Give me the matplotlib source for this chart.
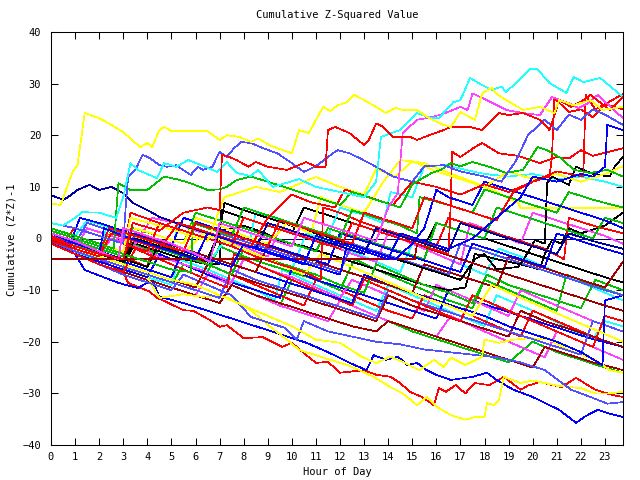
import matplotlib
matplotlib.use("Agg")
import matplotlib.pyplot as plt

# chart text
title = "Cumulative Z-Squared Value"
x_label = "Hour of Day"
y_label = "Cumulative (Z*Z)-1"
x_ticks = list(range(0, 24))
y_ticks = list(range(-40, 41, 10))

# each series: (hour, cumulative value) vertices
yellow_top = [(0, 6.8), (0.4, 6.5), (0.9, 13), (1.1, 14.2), (1.4, 24.3), (2, 23.3), (2.4, 22.3), (3, 20.6),
              (3.7, 17.7), (4, 18.5), (4.2, 17.7), (4.5, 21), (4.7, 21.6), (5, 20.8), (6.5, 20.8), (7, 19.1),
              (7.3, 20), (7.8, 19.7), (8.3, 18.7), (8.6, 19.4), (9.1, 18), (10, 16.5), (10.3, 21), (10.7, 20.4),
              (11.3, 25.5), (11.6, 24.7), (11.9, 25.8), (12.3, 26.4), (12.6, 27.8), (13, 26.8), (13.5, 25.5),
              (13.9, 24.3), (14.3, 25.3), (14.6, 24.9), (15.2, 24.9), (15.7, 23.3), (16.3, 22), (16.6, 21.6),
              (17, 24.5), (17.6, 23), (17.9, 28.1), (18.3, 29.2), (18.5, 28), (18.9, 26.8), (19.6, 24.9),
              (20.3, 25.5), (20.9, 24.3), (21.1, 26.8), (21.7, 25.8), (22.4, 26.8), (22.9, 24.9), (23.75, 25.5)]
yellow_low = [(0, 0), (1, -2), (2, -4), (3, -5.5), (4, -7.5), (4.5, -11.5), (5.5, -10.8), (6.3, -11.3), (7, -11),
              (7.6, -12), (8.3, -13.9), (9.1, -17.1), (9.8, -19.6), (10.3, -21.6), (11, -22.6), (11.6, -23.5),
              (12.3, -24.5), (12.8, -25.5), (13.4, -26.8), (14.1, -28.8), (14.6, -30), (15.2, -32.3), (15.6, -30.7),
              (16, -32.6), (16.6, -34.2), (17.2, -35.1), (17.6, -34.6), (18, -34.6), (18.1, -31.9), (18.4, -32.3),
              (18.6, -31.3), (18.8, -26.8), (19.5, -28), (20, -27.5), (21, -28.5), (22, -29), (22.6, -30),
              (23.2, -30), (23.75, -29.7)]
yellow_b = [(0, 1), (1, -1), (2, -3.5), (3, -5), (4, -6.5), (5, -8), (6, -9), (7, -11), (8, -13), (9, -15),
            (10, -17), (11, -19.6), (12, -20.2), (12.9, -22.9), (13.5, -24.1), (14.1, -22.9), (14.6, -23.9),
            (15.3, -25.5), (15.9, -23.5), (16.3, -24.9), (16.6, -23.1), (17.2, -24.5), (17.9, -22.9), (18, -19.6),
            (18.6, -20.2), (19.2, -19.6), (19.9, -19.3), (20.7, -19.6), (21.5, -21.6), (22.6, -23.5),
            (23.2, -25.5), (23.75, -26)]
yellow_c = [(0, 1.5), (1, 0), (2, -1.5), (3, -3), (3.5, 2), (4.5, 0.5), (5.5, -1), (6, 4), (7, 2.5), (8, 0.5),
            (9, -1), (9.8, 3), (10.8, 1), (11.2, 8), (12, 6.5), (13, 5), (13.8, 11), (14.5, 15.2), (15.5, 14.6),
            (16.5, 12.7), (17.5, 11), (18.5, 9), (19.4, 6.9), (19.5, 5.9), (23.75, 5.9)]
yellow_d = [(0, 0.5), (1, -1.5), (2, -3), (2.6, 2), (3.5, 0.5), (4.5, -1.5), (5.5, -3), (6.3, 1), (7.5, -1),
            (8.5, -3), (9.5, -5), (10.5, -7), (11.2, -3), (12.5, -5.5), (13.5, -7.5), (14.5, -9.5), (15.5, -11.5),
            (16.5, -13), (17.5, -15), (18.3, -9), (19.5, -11.5), (20.5, -13.5), (21.5, -15.5), (22.5, -17.5),
            (23.75, -20)]
yellow_e = [(0, 2), (1, 0.5), (2, -1), (3, -2.5), (3.3, 4), (4.5, 2.5), (5.5, 1), (6.5, -0.5), (7.2, 8), (8.5, 10),
            (9.5, 9), (10.5, 11), (11, 11.9), (12, 10), (13, 8.5), (13.5, 13.5), (14.3, 12), (15, 15), (16, 13),
            (17, 11.5), (18, 10), (19, 13), (20, 11.5), (21, 12.5), (22, 11), (23, 12.5), (23.75, 14)]

cyan_top = [(0, 3), (0.5, 2.5), (1, 4), (1.3, 5.1), (2, 5), (2.7, 4), (3, 8), (3.3, 14.6), (3.6, 13.3), (4.4, 11.7),
            (4.7, 14.6), (5.2, 13.9), (5.7, 15.2), (6.4, 13.9), (6.9, 12.9), (7.3, 14.8), (7.7, 12.7), (8.3, 12.1),
            (8.6, 13.3), (9.2, 10), (10.3, 11.5), (11, 10), (12, 9), (13, 8), (13.5, 11), (13.7, 19.7), (14.5, 21),
            (15.2, 24.3), (15.8, 23.3), (16.1, 23.3), (16.7, 26.4), (17, 26.8), (17.4, 31.1), (17.9, 29.7),
            (18.3, 28.8), (18.7, 29.4), (18.9, 28.4), (19.3, 30.1), (19.9, 32.8), (20.2, 32.8), (20.7, 30.1),
            (21.4, 28.2), (21.7, 31.3), (22.1, 30.3), (22.8, 31.1), (23.75, 27.4)]
cyan_b = [(0, 1), (1, -1), (2, -2.5), (2.3, 2), (3, 1), (4, -1), (5, -2.5), (5.3, 3), (6.3, 1.5), (7.3, 0),
          (8.2, -1.5), (8.5, 5), (9.5, 3.5), (10.5, 2), (11.5, 0.5), (12, 6), (13, 4.5), (13.8, 3), (14.1, 9),
          (15, 8), (15.5, 14), (16.4, 14.2), (17.2, 13.3), (18, 12.5), (19, 12), (20, 12.5), (21, 11.5), (22, 12),
          (23, 11), (23.75, 10)]
cyan_c = [(0, -0.5), (1, -2.5), (2, -4.5), (3, -6), (4, -7.5), (5, -9), (5.3, -4), (6.5, -6), (7.5, -8), (8.5, -10),
          (9.3, -12), (9.6, -6), (10.5, -8), (11.5, -10), (12.5, -12), (13.5, -14), (14, -9), (15, -11), (16, -13),
          (17, -15), (18, -17), (18.5, -11), (19.5, -13), (20.5, -15), (21.5, -17.5), (22.5, -19.5), (23, -16),
          (23.75, -17)]
cyan_d = [(0, 2), (1, 0.5), (1.5, 3.5), (2.5, 2), (3.5, 0), (4.5, -1.5), (5.5, -3.5), (6.5, -5), (7.2, -0.5),
          (8, -2), (9, -4), (10, -6), (10.6, 1), (11.5, -0.5), (12.5, -2.5), (13.5, -4.5), (14.5, -6.5), (15, -1),
          (16, -3), (17, -5), (18, -7), (18.6, -2), (19.5, -3.5), (20.5, -5.5), (21.5, -7.5), (22.5, -9.5),
          (23.75, -12)]

magenta_top = [(0, 1), (1, -0.5), (2, -2.5), (2.8, -4), (3, 2), (4, 0.5), (5, -1), (6, -3), (6.6, -4.5), (7, 3),
               (8, 1.5), (9, 0), (10, -1.5), (10.5, 4), (11.5, 2.5), (12.5, 1), (13.5, -0.5), (14, 6), (14.4, 8.8),
               (14.6, 20.4), (15.2, 23), (15.6, 23.3), (16.2, 24), (17, 25.5), (17.3, 24.9), (17.5, 28.1),
               (18.1, 26.8), (18.9, 24.9), (19.6, 24.3), (20.3, 23.9), (20.8, 27.4), (21.5, 26.2), (21.9, 25.3),
               (22.3, 26.2), (22.7, 27.8), (23.75, 23.3)]
magenta_b = [(0, 0), (1, -2), (2, -3.5), (2.5, 0), (3.5, -1.5), (4.5, -3.5), (5.5, -5), (6.5, -6.5), (7.5, -8.5),
             (8, -4), (9, -6), (10, -7.5), (11, -9.5), (12, -11.5), (12.5, -8), (13.5, -10), (14.5, -12),
             (15.5, -14), (16, -9), (17, -11), (18, -13), (19, -15), (19.5, -10), (20.5, -12), (21.5, -14),
             (22.5, -16), (23.75, -18)]
magenta_c = [(0, -0.5), (1, -2), (1.5, 2), (2.5, 0.5), (3.5, -1), (4.2, 4), (5.2, 3), (6, 1.5), (7, 0), (8, -1.5),
             (9, -3.5), (9.5, 2), (10.5, 0.5), (11.5, -1), (12.5, -3), (13.5, -4.5), (14, 1), (15, -1), (16, -3),
             (17, -5), (17.4, 3), (18.5, 1), (19.5, -1), (20, 5), (21, 3.5), (22, 2), (23, 0.5), (23.75, -1)]
magenta_d = [(0, -1), (1, -3), (2, -5), (3, -6.5), (4, -8), (5, -9.5), (6, -11), (6.5, -7), (7.5, -9), (8.5, -11),
             (9.5, -13), (10.5, -14.5), (11.5, -16), (12, -12), (13, -14), (14, -16), (15, -17.5), (16, -19),
             (16.6, -15), (17.5, -17), (18.5, -19), (19.5, -21), (20.5, -23), (21, -18), (22, -20), (23, -22),
             (23.75, -23.5)]

red_top = [(0, 0), (1, -1.5), (2, -3), (3, -4), (3.4, 3), (4.5, 1.5), (5.5, 5), (6.5, 6), (7, 5.5), (7.1, 16.2),
           (7.4, 15.8), (7.7, 15.2), (8.2, 13.9), (8.5, 14.8), (9, 13.9), (9.8, 13.3), (10.6, 14.8), (11, 13.9),
           (11.4, 13.9), (11.5, 21), (11.8, 21.6), (12.4, 20.4), (13, 18.1), (13.2, 19.1), (13.5, 22.3),
           (13.8, 21.6), (14.2, 19.7), (14.9, 19.7), (15.2, 19.1), (15.7, 20), (16.3, 21), (16.6, 21.6),
           (17.4, 21.6), (17.9, 21), (18.6, 24.3), (19, 23.9), (19.6, 24.3), (20.3, 23), (20.7, 21), (21.1, 26.8),
           (21.6, 25.5), (22.1, 26.8), (22.4, 27.8), (23.2, 24.9), (23.75, 27.4)]
red_low = [(0, -0.3), (1, -2), (2, -4), (3, -6.5), (3.2, -8.6), (4.1, -10.3), (4.4, -11.5), (4.8, -12.3),
           (5.5, -13.9), (5.9, -14), (6.6, -15.8), (7, -17.1), (7.3, -16.8), (8, -19.3), (8.8, -19.1), (9.6, -21),
           (10, -20.2), (10.5, -22.2), (11, -24.1), (11.5, -23.9), (12, -26), (12.4, -25.8), (13, -25.5),
           (13.5, -26.4), (14.1, -26.8), (14.5, -28), (14.9, -29.7), (15.4, -30.7), (15.9, -32.3), (16.1, -29),
           (16.4, -29.7), (16.8, -28.4), (17.2, -30), (17.6, -28), (18.2, -28.4), (18.8, -26.8), (19.5, -29.3),
           (19.8, -28.5), (20.3, -27.8), (21.2, -28.8), (21.8, -27), (22.6, -29.3), (23.3, -30.3), (23.75, -30.7)]
red_c = [(0, 1), (1, -0.5), (2, -2), (3, -3.5), (4, -5.5), (4.3, -1), (5.5, -3), (6.5, -5), (7.5, -7), (8.5, -9),
         (9.5, -11), (10.5, -13), (11, -8), (12, -10), (13, -12), (14, -14), (15, -15.5), (15.5, -11), (16.5, -13),
         (17.5, -15), (18.5, -17), (19.5, -19), (20, -14), (21, -16), (22, -18), (23, -20), (23.75, -21)]
red_d = [(0, 0.5), (0.5, -0.5), (1, 2), (2, 0.5), (3, -1), (4, -2.5), (4.5, 3), (5.5, 1.5), (6.5, 0), (7.5, -1.5),
         (8, 4), (9, 2.5), (10, 1), (11, -0.5), (12, -2), (12.5, 3), (13.5, 1.5), (14.5, 0), (15.5, -1.5),
         (16.5, -3), (16.6, 6.9), (16.65, 16.8), (17, 15.8), (17.6, 17.7), (17.9, 18.5), (18.6, 16.5), (19.4, 16),
         (20.3, 14.6), (21, 15.8), (21.5, 15.5), (22, 17.1), (22.5, 16), (23.75, 17.5)]
red_e = [(0, -0.5), (1, -2), (2, -3.5), (2.5, 1), (3.5, -0.5), (4.5, -2), (5.3, 3), (6.3, 1.5), (7.3, 0),
         (8.3, -1.5), (9, 4), (10, 8.5), (10.8, 7), (11.8, 6), (12.2, 9.5), (13.2, 8), (14.2, 6.5), (15, 11),
         (16, 10), (17, 8.5), (18, 10.5), (19, 9), (20, 11), (20.7, 12), (20.8, 15.8), (20.9, 27.2), (21.5, 24.5),
         (22, 25), (22.5, 23.5), (23, 26), (23.75, 25)]
red_f = [(0, 0), (1, -1.5), (2, -3), (2.4, 2), (3.5, 0.5), (4.5, -1), (5.5, -2.5), (6, 3), (7, 1.5), (8, 0),
         (9, -1.5), (9.5, 3.5), (10.5, 2), (11.5, 0.5), (12.5, -1), (13, 5), (14, 3.5), (15, 2), (15.5, 8),
         (16.5, 6.5), (17.5, 5), (18.5, 3.5), (19.2, 9), (20, 11), (21, 13), (22.1, 12), (22.2, 27.8), (22.6, 25),
         (23, 26), (23.75, 28)]
red_g = [(0, -1), (1, -3), (2, -5), (3, -6.5), (3.5, -2), (4.5, -4), (5.5, -6), (6.5, -8), (7.3, -9.5), (7.6, -3),
         (8.5, -5), (9.5, -7), (10.5, -9), (11.5, -11), (12.5, -13), (13, -8), (14, -10), (15, -12), (16, -14),
         (17, -16), (17.5, -11), (18.5, -13), (19.5, -15), (20.5, -17), (21.5, -19), (22.5, -21), (23, -15),
         (23.75, -16)]
red_h = [(0, 1.5), (1, 0), (2, -1.5), (3, -3), (3.3, 5), (4.5, 3), (5.5, 1.5), (6.5, 0), (7.5, -1.5), (8.5, -3.5),
         (9.5, -5), (10.5, -6.5), (11.2, -8), (11.3, 6), (12, 5), (13, 3), (14, 1.5), (15, 0), (16, -1.5),
         (16.5, 4), (17.5, 2.5), (18.5, 1), (19.5, -0.5), (20.5, -2), (21.3, -4), (21.5, 4), (22.5, 2.5),
         (23.75, 1)]

green_top = [(0, 2), (1, 0.5), (2, -1), (2.6, -2), (2.7, 4.5), (2.8, 10.7), (3.3, 9.4), (4, 9.4), (4.7, 12),
             (5.2, 11.5), (5.8, 10.7), (6.5, 9.4), (7, 9.5), (7.3, 10), (7.7, 11.3), (8.3, 12), (9, 11), (10, 9.5),
             (11, 8), (12, 6.5), (12.5, 9), (13.5, 7.5), (14.5, 6), (15, 10.5), (15.8, 12.7), (16.2, 13.3),
             (16.6, 14.6), (17, 14), (17.5, 14.8), (18.2, 13.9), (18.9, 12.7), (19.6, 13.3), (20.2, 17.7),
             (20.6, 17.1), (21.2, 15.5), (21.7, 13.3), (22.4, 12.7), (23.1, 13.3), (23.75, 12)]
green_b = [(0, 1), (1, -0.5), (2, -2), (3, -3.5), (3.4, 2), (4.5, 0.5), (5.5, -1), (6, 5), (7, 3.5), (8, 2),
           (9, 0.5), (10, -1), (11, -2.5), (11.5, 2), (12.5, 0.5), (13.5, -1), (14.5, -2.5), (15.5, -4), (16, 3),
           (17, 1.5), (18, 0), (18.5, 6), (19.5, 4.5), (20.5, 3), (21.5, 1.5), (22.5, 0), (23, 4), (23.75, 3)]
green_c = [(0, -0.5), (1, -2.5), (2, -4.5), (3, -6), (4, -7.5), (5, -9), (5.5, -5), (6.5, -7), (7.5, -9),
           (8.5, -11), (9.5, -13), (10, -8), (11, -10), (12, -12), (13, -14), (14, -16), (15, -18), (16, -19.5),
           (17, -21), (18, -22.5), (19, -24), (20, -20), (21, -22), (22, -23.5), (23, -25), (23.75, -26)]
green_d = [(0, 0.5), (1, -1), (2, -3), (2.5, 1.5), (3.5, 0), (4.5, -2), (5.5, -3.5), (6.5, -5), (7.5, -7), (8, -2),
           (9, -4), (10, -5.5), (11, -7), (12, -9), (13, -10.5), (13.5, -5), (14.5, -7), (15.5, -9), (16.5, -10.5),
           (17.5, -12.5), (18.1, -7), (19, -9), (20, -10.5), (21, -12), (22, -13.5), (22.6, -8), (23.75, -10)]
green_e = [(0, 1.5), (1, 0), (2, -1.5), (3, -3), (4, -4.5), (5, -6), (5.8, -6.5), (5.9, 3), (6.5, 2), (7.5, 0.5),
           (8, 6), (9, 4.5), (10, 3), (11, 1.5), (12, 0), (12.5, 5.5), (13.5, 4), (14.5, 2.5), (15.2, 1),
           (15.3, 8), (16.5, 6.5), (17.5, 5), (18, 9.5), (19, 8), (20, 6.5), (21, 5), (21.5, 9), (22.5, 7.5),
           (23.75, 6)]
green_f = [(0, -1), (1, -3), (2, -4.5), (3, -6), (3.3, -1), (4.5, -3), (5.5, -5), (6.5, -6.5), (7, -1.5),
           (8, -3.5), (9, -5), (10, -6.5), (11, -8), (12, -10), (12.6, -4), (13.5, -6), (14.5, -8), (15.5, -10),
           (16.5, -12), (17.5, -13.5), (18, -8), (19, -10), (20, -12), (21, -14), (21.4, -7), (22.5, -9),
           (23.75, -11)]

blue_low = [(0, -0.5), (1, -3), (1.4, -6.1), (2.8, -8.6), (3.6, -9.6), (4.2, -8), (4.5, -11.3), (5.5, -12.5),
            (6.5, -14), (7.5, -15.5), (8.5, -17), (9.5, -18.5), (10.6, -20.2), (11.3, -21.6), (11.9, -22.9),
            (12.4, -24.1), (13.1, -25.5), (13.4, -22.6), (13.9, -23.5), (14.4, -22.9), (14.8, -24.5),
            (15.2, -24.1), (15.6, -25.5), (16, -26.4), (16.6, -27.4), (17.5, -26.8), (18.1, -26), (18.5, -27.4),
            (19.2, -29.3), (20, -30.7), (21.1, -33.2), (21.8, -35.7), (22.2, -34.4), (22.7, -33.2),
            (23.1, -33.8), (23.75, -34.6)]
blue_b = [(0, 0), (1, -1.5), (2, -3), (2.2, 2), (3, 0.5), (4, -1), (5, -2.5), (6, -4), (6.5, 1), (7.5, -0.5),
          (8.5, -2), (9.5, -3.5), (10.5, -5), (11, 0.5), (12, -1), (13, -2.5), (14, -4), (14.5, 1), (15.5, -0.5),
          (16.5, -2), (17.5, 0), (18.5, 4), (19.5, 8), (20, 12), (21, 11), (22, 12.5), (22.5, 12), (23, 13.9),
          (23.1, 22), (23.75, 21)]
blue_c = [(0, 0.5), (1, -1.5), (2, -3), (3, -4.5), (4, -6), (5, -7.5), (5.5, -2), (6.5, -3.5), (7.5, -5),
          (8.5, -6.5), (9.5, -8), (10.5, -9.5), (11.5, -11), (12.5, -12.5), (13, -7), (14, -9), (15, -10.5),
          (16, -12), (17, -13.5), (18, -15), (19, -17), (20, -18.5), (21, -20), (22, -22), (22.9, -24.5),
          (23, -12), (23.75, -11)]
blue_d = [(0, 1), (1, -1), (2, -2.5), (3, -4), (3.3, 1), (4.5, -1), (5.5, -2.5), (6.5, -4), (7.5, -5.5), (8, -1),
          (9, -2.5), (10, -4), (11, -5.5), (12, -7), (12.3, -1), (13.3, -2.5), (14.3, -4), (15, -1), (15.5, 2),
          (16, 9.4), (16.5, 8), (17.5, 6.5), (18, 11), (19, 9.5), (20, 8), (21, 6.5), (22, 5), (23, 3.5),
          (23.75, 2)]
blue_e = [(0, -1), (1, -3), (2, -4.5), (3, -6), (4, -7.5), (4.5, -3), (5.5, -5), (6.5, -7), (7.5, -8.5),
          (8.5, -10), (9.5, -11.5), (10, -6), (11, -8), (12, -9.5), (13, -11), (14, -12.5), (15, -14),
          (16, -15.5), (16.5, -10), (17.5, -12), (18.5, -13.5), (19.5, -15), (20.5, -16.5), (21.5, -18),
          (22.5, -19.5), (23.75, -21)]
blue_f = [(0, 0), (0.8, -1), (1.2, 4), (2, 3), (3, 1.5), (4, 0), (5, -1.5), (5.5, 4), (6.5, 2.5), (7.5, 1),
          (8.5, -0.5), (9.5, -2), (10.5, -3.5), (11.5, -5), (12, 1), (13, -0.5), (14, -2), (15, -3.5), (16, -5),
          (17, -6.5), (17.5, -1), (18.5, -2.5), (19.5, -4), (20.5, -5.5), (21, 1), (22, -0.5), (23, -2),
          (23.75, -3)]

slate_top = [(0, 3), (0.5, 2.5), (1, 2), (2, 0.5), (3, -1), (3.1, 6), (3.2, 11.9), (3.5, 13.3), (3.8, 16.2),
             (4.1, 15.6), (4.5, 14.2), (4.8, 13.9), (5.2, 14.2), (5.8, 12.3), (6.1, 13.9), (6.3, 13.3), (6.7, 13.9),
             (7, 16.8), (7.3, 15.8), (7.6, 17.5), (7.9, 18.7), (8.3, 18.5), (8.8, 17.5), (9.4, 16.5), (10, 14.6),
             (10.5, 12.9), (11, 14), (11.7, 16.5), (11.9, 17.1), (12.4, 16.5), (12.8, 15.6), (13.5, 13.9),
             (14.2, 12), (15, 11), (15.5, 14), (16.3, 14.2), (17, 13), (18, 12), (18.7, 11), (19.3, 15),
             (19.8, 20), (20.5, 23), (21, 21), (21.5, 24), (22, 23), (22.5, 25), (23, 24), (23.75, 22)]
slate_low = [(0, -1), (1, -3), (2, -5), (3, -7), (4, -8.5), (5, -10), (5.5, -7), (6.5, -9), (7.5, -11),
             (8.3, -15.2), (9.7, -17.3), (10.2, -19.6), (10.5, -16), (11.5, -18), (12.5, -19), (13.5, -20),
             (14.5, -20.5), (15.5, -21.5), (16.5, -22), (17.5, -22.5), (18.5, -23), (19.5, -24), (20.5, -25.5),
             (21.6, -29.3), (22.4, -30.7), (23.1, -32), (23.75, -31.7)]
slate_c = [(0, 0.5), (1, -1), (1.5, 3), (2.5, 1.5), (3.5, 0), (4.5, -1.5), (5.5, -3), (6.5, -4.5), (7, 1),
           (8, -0.5), (9, -2), (10, -3.5), (11, -5), (12, -6.5), (12.5, -1), (13.5, -2.5), (14.5, -4),
           (15.5, -5.5), (16.5, -7), (17, -1), (18, -2.5), (19, -4), (20, -5.5), (21, -7), (22, -8.5), (23, -10),
           (23.75, -11)]
slate_d = [(0, -0.5), (1, -2.5), (2, -4), (3, -5.5), (4, -7), (5, -8.5), (6, -10), (7, -11.5), (7.5, -6),
           (8.5, -8), (9.5, -9.5), (10.5, -11), (11.5, -12.5), (12.5, -14), (13.5, -15.5), (14, -10), (15, -12),
           (16, -13.5), (17, -15), (18, -16.5), (19, -18), (20, -19.5), (21, -21), (22, -22.5), (22.5, -16),
           (23.75, -18)]

black_a = [(0, 0), (1, -1.5), (2, -3), (3, -4.5), (3.5, 0), (4.5, -1.5), (5.5, -3), (6.5, -4.5), (7, 1),
           (7.2, 6.9), (8, 5.5), (9, 4), (10, 2.5), (11, 1), (12, -0.5), (13, -2), (14, -3.5), (15, -5),
           (16, -6.5), (17, -8), (17.6, -4), (18, -3), (18.5, -6), (19.4, -5.5), (19.7, -3.5), (20.1, -0.3),
           (20.5, -1), (20.6, 10.7), (20.8, 12), (21.5, 10.4), (21.8, 13.9), (22.5, 12.5), (23.2, 12),
           (23.4, 13.9), (23.75, 15.8)]
black_b = [(0, 0.5), (1, -1), (2, -2.5), (3, -4), (4, -5.5), (4.5, -1), (5.5, -2.5), (6.5, -4), (7, 1.5),
           (8, 2.5), (8.9, 1), (9.5, -0.5), (10.5, -1.5), (11.5, -3), (12.5, -4.5), (13.5, -6), (14.5, -7.5),
           (15.5, -9), (16.5, -10), (17.2, -9.5), (17.6, -3), (18.5, -4), (19.5, -5), (20.3, -6), (20.5, -3),
           (20.8, -0.3), (21.2, -1), (21.5, 2), (22, 1), (23, 2.5), (23.75, 5)]
black_c = [(0, -0.5), (1, -2), (2, -3.5), (3, -5), (3.5, -1), (4.5, -2.5), (5.5, -4), (6.5, -5), (7, -5),
           (7.05, 5.5), (8, 4), (9, 2.5), (10, 1), (10.5, 6), (11.5, 4.5), (12.5, 3), (13.5, 1.5), (14.5, 0),
           (15.5, -1.5), (16, 3), (17, 1.5), (18, 0), (19, -1.5), (20, -3), (21, -4.5), (22, -6), (23, -7.5),
           (23.75, -8.5)]

brown_flat = [(0, -4), (15.1, -4), (15.2, -1), (16, -2.5), (17, -4), (18, -5.5), (19, -7), (20, -8.5), (21, -10),
              (22, -11.5), (23, -13), (23.75, -14)]
brown_b = [(0, 0), (1, -2), (2, -3.5), (3, -5), (4, -6.5), (5, -8), (6, -9.5), (6.5, -5), (7.5, -7), (8.5, -8.5),
           (9.5, -10), (10.5, -11.5), (11.5, -13), (12.5, -14.5), (13.5, -16), (14, -11), (15, -13), (16, -14.5),
           (17, -16), (18, -17.5), (19, -19), (19.5, -14), (20.5, -16), (21.5, -17.5), (22.5, -19), (23.75, -21)]
brown_c = [(0, 1), (1, -0.5), (2, -2), (3, -3.5), (3.5, 1), (4.5, -0.5), (5.5, -2), (6.5, -3.5), (7.5, -5),
           (8.5, -6.5), (9, -1.5), (10, -3), (11, -4.5), (12, -6), (13, -7.5), (14, -9), (15, -10.5), (15.5, -5),
           (16.5, -6.5), (17.5, -8), (18.5, -9.5), (19, -3.5), (20, -5), (21, -6.5), (22, -8), (23, -9.5),
           (23.75, -4.5)]
brown_d = [(0, -1), (1, -3), (2, -5), (3, -6.5), (4, -8), (5, -9.5), (6, -11), (7, -12.5), (7.5, -9), (8.5, -11),
           (9.5, -12.5), (10.5, -14), (11.5, -15.5), (12.5, -17), (13.5, -18), (14, -16), (15, -17.5), (16, -19),
           (17, -20.5), (18, -22), (19, -23.5), (20, -25), (20.5, -21), (21.5, -22.5), (22.5, -24), (23.75, -25.5)]

navy_a = [(0, 8.4), (0.5, 7.5), (0.7, 8), (1.1, 9.4), (1.6, 10.4), (2, 9.4), (2.5, 10), (3, 8.8), (3.4, 6.9),
          (4, 5.5), (4.5, 4.2), (5.5, 2.5), (6.5, 1), (7.5, -0.5), (8.5, -2), (9, 3), (10, 1.5), (11, 0),
          (12, -1.5), (13, -3), (13.5, 2), (14.5, 0.5), (15.5, -1), (16.5, -2.5), (17, 3), (18, 1.5), (19, 0),
          (20, -1.5), (21, -3), (21.5, 1), (22.5, -0.5), (23.75, -2)]

# colours of the old gnuplot png terminal
RED, GREEN, BLUE, MAGENTA = "#ff0000", "#00c000", "#0000ff", "#ff40ff"
CYAN, YELLOW, BLACK, BROWN = "#20ffff", "#ffff00", "#000000", "#a00000"
SLATE, NAVY = "#5050ff", "#0000a0"

series = [
    (red_low, RED), (green_c, GREEN), (blue_low, BLUE), (magenta_d, MAGENTA), (cyan_c, CYAN),
    (brown_d, BROWN), (yellow_low, YELLOW), (slate_low, SLATE), (black_c, BLACK),
    (red_c, RED), (green_f, GREEN), (blue_e, BLUE), (magenta_b, MAGENTA), (cyan_d, CYAN),
    (brown_b, BROWN), (yellow_b, YELLOW), (slate_d, SLATE), (black_b, BLACK),
    (red_g, RED), (green_d, GREEN), (blue_c, BLUE), (magenta_c, MAGENTA), (cyan_b, CYAN),
    (brown_c, BROWN), (yellow_d, YELLOW), (slate_c, SLATE), (black_a, BLACK),
    (red_h, RED), (green_b, GREEN), (blue_f, BLUE), (brown_flat, BROWN), (yellow_c, YELLOW),
    (red_d, RED), (green_e, GREEN), (blue_d, BLUE), (yellow_e, YELLOW), (navy_a, NAVY),
    (red_e, RED), (red_f, RED), (green_top, GREEN), (blue_b, BLUE), (slate_top, SLATE),
    (magenta_top, MAGENTA), (cyan_top, CYAN), (red_top, RED), (yellow_top, YELLOW),
]

font = "DejaVu Sans Mono"
plt.rcParams["font.family"] = font
plt.rcParams["font.size"] = 7.5

fig = plt.figure(figsize=(6.4, 4.8), dpi=100)
ax = fig.add_axes([51 / 640, 35 / 480, 572 / 640, 413 / 480])

ax.axhline(0, color="#000070", lw=0.5, antialiased=False, zorder=1)
for pts, col in series:
    hours = [p[0] for p in pts]
    vals = [p[1] for p in pts]
    ax.plot(hours, vals, color=col, lw=0.5, antialiased=False, zorder=2)

ax.set_xlim(0, 23.75)
ax.set_ylim(-40, 40)
ax.set_xticks(x_ticks)
ax.set_yticks(y_ticks)
ax.tick_params(direction="in", top=True, right=True, length=5, width=0.75, pad=5, labelsize=7.5)
ax.tick_params(axis="y", pad=7)
for s in ax.spines.values():
    s.set_linewidth(0.75)

fig.text(337 / 640, 1 - 15 / 480, title, ha="center", va="center", fontsize=7.5)
fig.text(337 / 640, 1 - 472 / 480, x_label, ha="center", va="center", fontsize=7.5)
fig.text(12 / 640, 1 - 240 / 480, y_label, ha="center", va="center", rotation=90, fontsize=7.5)

fig.savefig("out.png", dpi=100)
